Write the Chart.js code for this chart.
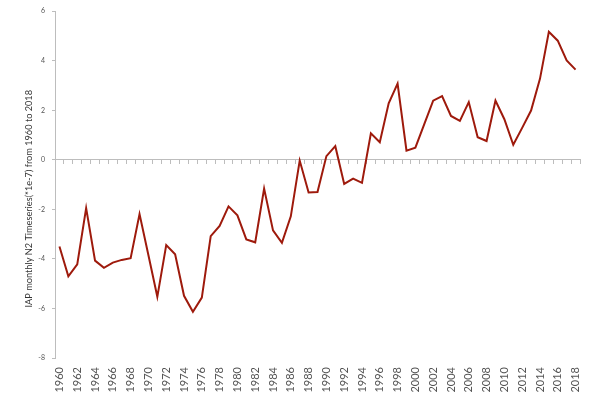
<!DOCTYPE html>
<html>
<head>
<meta charset="utf-8">
<script src="https://cdn.jsdelivr.net/npm/chart.js@4"></script>
<style>
html,body{margin:0;padding:0;background:#fff;}
#wrap{width:600px;height:399px;position:relative;}
</style>
</head>
<body>
<div id="wrap"><canvas id="c"></canvas></div>
<script>
const years = ['1960','1961','1962','1963','1964','1965','1966','1967','1968','1969',
  '1970','1971','1972','1973','1974','1975','1976','1977','1978','1979',
  '1980','1981','1982','1983','1984','1985','1986','1987','1988','1989',
  '1990','1991','1992','1993','1994','1995','1996','1997','1998','1999',
  '2000','2001','2002','2003','2004','2005','2006','2007','2008','2009',
  '2010','2011','2012','2013','2014','2015','2016','2017','2018'];
const n2Values = [-3.50,-4.70,-4.22,-1.95,-4.07,-4.36,-4.15,-4.04,-3.97,-2.19,
  -3.85,-5.53,-3.44,-3.81,-5.49,-6.13,-5.56,-3.08,-2.67,-1.88,
  -2.24,-3.21,-3.33,-1.16,-2.85,-3.35,-2.28,-0.03,-1.32,-1.30,
  0.15,0.55,-0.97,-0.76,-0.93,1.07,0.71,2.28,3.08,0.37,
  0.49,1.44,2.39,2.57,1.77,1.57,2.33,0.91,0.76,2.39,
  1.64,0.61,1.29,1.99,3.27,5.17,4.81,4.01,3.64];
const yMin = -8, yMax = 6, yStep = 2;
const yTitle = 'IAP monthly N2 Timeseries(*1e-7) from 1960 to 2018';

const FONT = 'Lato, "Open Sans", sans-serif';
const AXIS = '#bdbdbd';
const TITLE_SIZE = 9.2;

// pad the end of the (rotated) title so its visible text sits a bit lower, as in the original
const mctx = document.createElement('canvas').getContext('2d');
mctx.font = TITLE_SIZE + 'px ' + FONT;
const spW = mctx.measureText('\u00a0').width || 2.3;
const titleText = yTitle + '\u00a0'.repeat(Math.round(29 / spW));

new Chart(document.getElementById('c'), {
  type: 'line',
  data: {
    labels: years,
    datasets: [{
      data: n2Values,
      borderColor: '#9e1a0c',
      borderWidth: 2,
      pointRadius: 0,
      tension: 0,
      fill: false
    }]
  },
  options: {
    responsive: true,
    maintainAspectRatio: false,
    animation: false,
    layout: { padding: { top: 3, right: 20, left: 0, bottom: 0 } },
    plugins: { legend: { display: false }, tooltip: { enabled: false } },
    scales: {
      x: {
        type: 'category',
        position: 'bottom',
        offset: true,
        grid: { display: false, offset: true },
        border: { display: false },
        ticks: {
          autoSkip: false,
          maxRotation: 90,
          minRotation: 90,
          padding: 1,
          color: '#555',
          font: { family: FONT, size: 11 },
          callback: function (val, idx) { return idx % 2 === 0 ? this.getLabelForValue(val) : ''; }
        },
        afterFit: (s) => { s.height = 41; }
      },
      x0: {
        type: 'category',
        position: { y: 0 },
        offset: true,
        grid: { display: true, offset: true, drawOnChartArea: false, drawTicks: true, tickLength: 4, color: AXIS },
        border: { display: true, color: AXIS, width: 1 },
        ticks: { display: false }
      },
      y: {
        type: 'linear',
        position: 'left',
        min: yMin,
        max: yMax,
        grid: { display: true, drawOnChartArea: false, drawTicks: true, tickLength: 3, color: AXIS },
        border: { display: true, color: AXIS, width: 1 },
        ticks: {
          stepSize: yStep,
          padding: 7,
          color: '#555',
          font: { family: FONT, size: 7 }
        },
        title: {
          display: true,
          text: titleText,
          color: '#333',
          padding: { top: 24, bottom: 6 },
          font: { family: FONT, size: TITLE_SIZE }
        },
        afterFit: (s) => { s.width = 55; }
      }
    }
  }
});
</script>
</body>
</html>
